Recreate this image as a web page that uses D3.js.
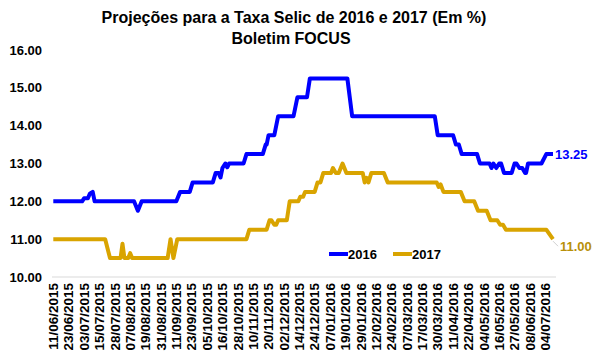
<!DOCTYPE html>
<html>
    <head>
        <meta charset="utf-8">
        <title>Projeções Selic - Focus</title>
        <script src="https://d3js.org/d3.v7.min.js"></script>
        <style>
            body { margin: 0; background: #fff; }
            text { font-family: Arial, "Liberation Sans", sans-serif; font-weight: bold; }
        </style>
    </head>
    <body>
        <script>
            // tick labels, one every 8 business days
            var tickLabels = ["11/06/2015","23/06/2015","03/07/2015","15/07/2015","28/07/2015","07/08/2015",
                "19/08/2015","31/08/2015","11/09/2015","23/09/2015","05/10/2015","16/10/2015","28/10/2015",
                "10/11/2015","20/11/2015","02/12/2015","14/12/2015","24/12/2015","07/01/2016","19/01/2016",
                "29/01/2016","12/02/2016","24/02/2016","07/03/2016","17/03/2016","30/03/2016","11/04/2016",
                "22/04/2016","04/05/2016","16/05/2016","27/05/2016","08/06/2016","04/07/2016"];
            var yTicks = [10, 11, 12, 13, 14, 15, 16];
            var seriesNames = ["2016", "2017"];

            // [business day index, projected Selic %]
            var proj2016 = [[0,12.00],[15,12.00],[16,12.08],[18,12.08],[19,12.20],[20.5,12.25],[21.5,12.00],
                [42,12.00],[44,11.75],[46,12.00],[64,12.00],[66,12.25],[71,12.25],[72.5,12.50],
                [83,12.50],[84.5,12.75],[86,12.75],[87,12.63],[88,12.88],[89.5,13.00],[90.5,12.90],[91.5,13.00],
                [99,13.00],[100.5,13.25],[109,13.25],[110.5,13.50],[111,13.50],[112,13.75],[115,13.75],[117,14.25],
                [125,14.25],[127,14.75],[132,14.75],[133.5,15.25],[153,15.25],[155.5,14.25],
                [198.5,14.25],[200,13.75],[208,13.75],[209.5,13.50],[211,13.50],[212.5,13.25],
                [220.5,13.25],[222,13.00],[227,13.00],[228,12.88],[229,13.00],[230.5,12.88],[232,13.00],
                [233,13.00],[234.5,12.75],[238.5,12.75],[240,13.00],[241,13.00],[242.5,12.88],[244,12.88],
                [245.5,12.75],[246,12.75],[247,13.00],[254,13.00],[256.5,13.25],[260,13.25]];
            var proj2017 = [[0,11.00],[27,11.00],[29.5,10.50],[35,10.50],[36,10.88],[37,10.50],[39,10.50],
                [40,10.63],[41,10.50],[59.5,10.50],[61,11.00],[62.5,10.50],[64.5,11.00],[100.5,11.00],
                [102,11.25],[111,11.25],[112.5,11.50],[113.5,11.50],[115,11.38],[116,11.38],[117,11.50],
                [121.5,11.50],[123,12.00],[127.5,12.00],[128.5,12.12],[130,12.12],[131,12.25],[136,12.25],
                [137.5,12.50],[139,12.50],[140.5,12.75],[144.5,12.75],[145.5,12.88],[147,12.75],[148.5,12.75],
                [150.5,13.00],[152.5,12.75],[161,12.75],[162,12.50],[163,12.62],[164,12.50],[165.5,12.75],
                [172,12.75],[174,12.50],[199.5,12.50],[200.5,12.38],[201.5,12.45],[203,12.25],[212,12.25],
                [214,12.00],[219,12.00],[221,11.75],[225.5,11.75],[227.5,11.50],[231,11.50],[232.5,11.38],
                [234,11.38],[235.5,11.25],[256.5,11.25],[260,11.00]];

            var w = 600, h = 363;
            var blue = "#0000ff", gold = "#d9a400";

            var svg = d3.select("body").append("svg")
                .attr("width", w)
                .attr("height", h);

            var x = d3.scaleLinear().domain([0, 260]).range([53.3, 553]);
            var y = d3.scaleLinear().domain([10, 16]).range([277, 50]);

            // title
            svg.append("text").attr("x", 294).attr("y", 23).attr("text-anchor", "middle")
                .attr("font-size", 16).text("Projeções para a Taxa Selic de 2016 e 2017 (Em %)");
            svg.append("text").attr("x", 291).attr("y", 44).attr("text-anchor", "middle")
                .attr("font-size", 16).text("Boletim FOCUS");

            // baseline grid
            svg.append("line")
                .attr("x1", 52).attr("x2", 556)
                .attr("y1", y(10)).attr("y2", y(10))
                .attr("stroke", "#d9d9d9");

            // y labels
            svg.selectAll(".ylab")
                .data(yTicks)
                .enter()
                .append("text")
                .attr("class", "ylab")
                .attr("x", 42)
                .attr("y", function(d) { return y(d); })
                .attr("dy", "0.35em")
                .attr("text-anchor", "end")
                .attr("font-size", 13)
                .text(function(d) { return d.toFixed(2); });

            // x labels (rotated)
            svg.selectAll(".xlab")
                .data(tickLabels)
                .enter()
                .append("text")
                .attr("class", "xlab")
                .attr("transform", function(d, i) { return "translate(" + x(i * 8) + ",283) rotate(-90)"; })
                .attr("dy", "0.35em")
                .attr("text-anchor", "end")
                .attr("font-size", 13.5)
                .text(function(d) { return d; });

            var line = d3.line()
                .x(function(d) { return x(d[0]); })
                .y(function(d) { return y(d[1]); });

            svg.append("path").datum(proj2017)
                .attr("d", line)
                .attr("fill", "none")
                .attr("stroke", gold)
                .attr("stroke-width", 4)
                .attr("stroke-linejoin", "round");

            svg.append("path").datum(proj2016)
                .attr("d", line)
                .attr("fill", "none")
                .attr("stroke", blue)
                .attr("stroke-width", 4)
                .attr("stroke-linejoin", "round");

            // end labels
            var last16 = proj2016[proj2016.length - 1];
            var last17 = proj2017[proj2017.length - 1];
            svg.append("text")
                .attr("x", x(last16[0]) + 2)
                .attr("y", y(last16[1]))
                .attr("dy", "0.35em")
                .attr("font-size", 13)
                .attr("fill", blue)
                .text(last16[1].toFixed(2));
            svg.append("line")
                .attr("x1", x(last17[0])).attr("y1", y(last17[1]) + 2)
                .attr("x2", x(last17[0]) + 5).attr("y2", y(last17[1]) + 7)
                .attr("stroke", "#d0d0d0");
            svg.append("text")
                .attr("x", x(last17[0]) + 7)
                .attr("y", y(last17[1]) + 7)
                .attr("dy", "0.35em")
                .attr("font-size", 13)
                .attr("fill", "#b8900a")
                .text(last17[1].toFixed(2));

            // legend
            var legendX = [329, 393];
            var legend = svg.selectAll(".leg")
                .data(seriesNames)
                .enter()
                .append("g")
                .attr("class", "leg")
                .attr("transform", function(d, i) { return "translate(" + legendX[i] + ",254)"; });
            legend.append("line")
                .attr("x1", 0).attr("x2", 19)
                .attr("stroke", function(d, i) { return i === 0 ? blue : gold; })
                .attr("stroke-width", 4);
            legend.append("text")
                .attr("x", 19)
                .attr("dy", "0.35em")
                .attr("font-size", 13)
                .text(function(d) { return d; });
        </script>
    </body>
</html>
